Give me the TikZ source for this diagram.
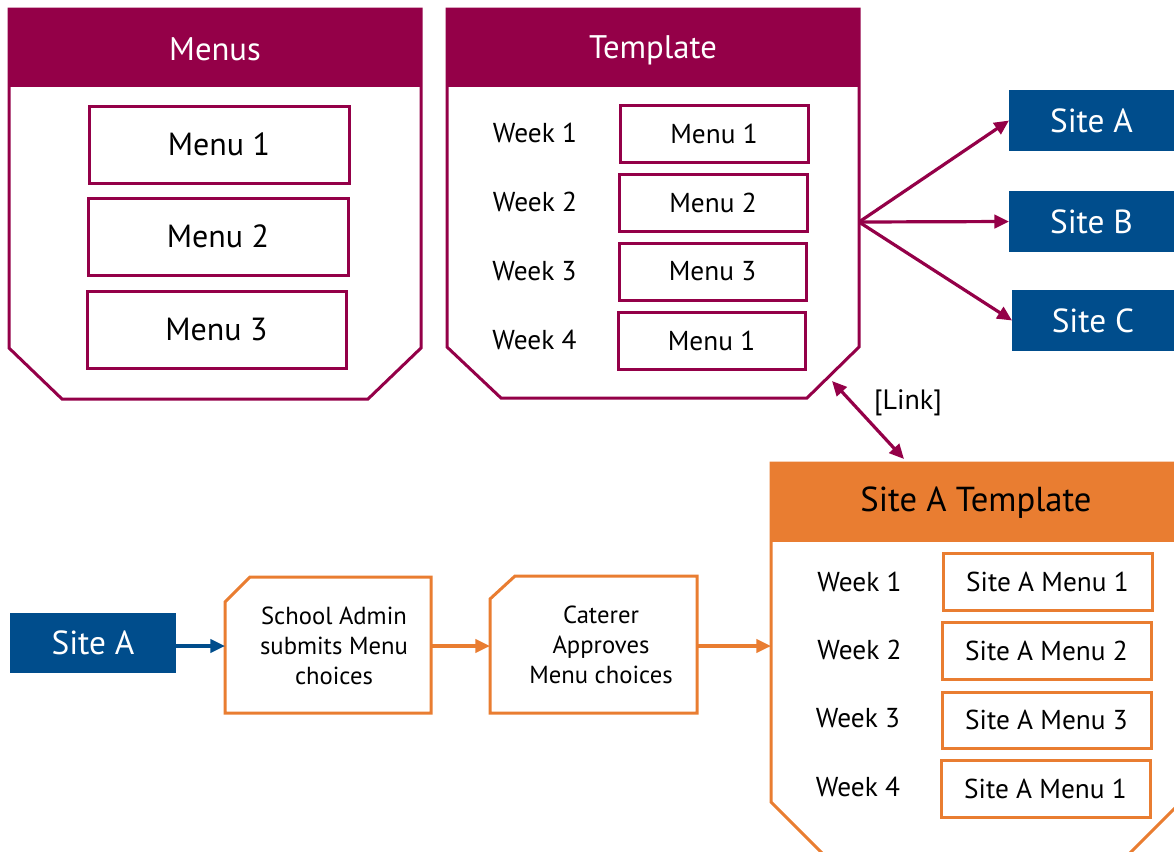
\documentclass[tikz,border=0pt]{standalone}
\usepackage{fontspec}
\setmainfont{PT Sans}
\usetikzlibrary{arrows.meta}
\definecolor{maroon}{RGB}{148,0,72}
\definecolor{siteblue}{RGB}{0,77,140}
\definecolor{orng}{RGB}{233,125,49}
\begin{document}
\begin{tikzpicture}[x=0.75pt,y=-0.75pt,
  dims/.style 2 args={minimum width=#1*0.75pt, minimum height=#2*0.75pt},
  boxbase/.style={line width=2.25pt, inner sep=0pt, outer sep=0pt},
  mbox/.style={boxbase, draw=maroon},
  obox/.style={boxbase, draw=orng},
  sitebox/.style={inner sep=0pt, outer sep=0pt, fill=siteblue, text=white, font=\fontsize{25}{30}\selectfont},
  hdr/.style={text=white, font=\fontsize{24.5}{28}\selectfont},
  bigmenu/.style={font=\fontsize{24}{28}\selectfont},
  smallt/.style={font=\fontsize{20.5}{24}\selectfont},
  flowt/.style={align=center, font=\fontsize{18.5}{22.5}\selectfont},
  cont/.style={line width=2.25pt, line join=miter},
  arr/.style={line width=2.4pt, -{Triangle[length=11pt,width=10pt]}},
  dblarr/.style={line width=2.4pt, {Triangle[length=11pt,width=10pt]}-{Triangle[length=11pt,width=10pt]}}
]
\useasboundingbox (0,0) rectangle (1174,851);

% ---------- Menus container ----------
\fill[maroon] (9,9) rectangle (421,87);
\draw[cont, maroon] (9,9) -- (421,9) -- (421,348) -- (368,399) -- (62,399) -- (9,348) -- cycle;
\node[hdr] (menusT) at (215,49) {Menus};
\node[mbox, dims={260}{77}, bigmenu] (m1) at (219,144.5) {Menu 1};
\node[mbox, dims={260}{77}, bigmenu] (m2) at (218,236.5) {Menu 2};
\node[mbox, dims={259}{77}, bigmenu] (m3) at (216.5,329.5) {Menu 3};

% ---------- Template container ----------
\fill[maroon] (447,9) rectangle (859,87);
\draw[cont, maroon] (447,9) -- (859,9) -- (859,347) -- (807,398) -- (501,398) -- (447,347) -- cycle;
\node[hdr] (tmplT) at (653,50) {Template};
\node[smallt] (w1) at (535,133) {Week 1};
\node[smallt] (w2) at (535,202) {Week 2};
\node[smallt] (w3) at (534.5,271) {Week 3};
\node[smallt] (w4) at (534.5,340) {Week 4};
\node[mbox, dims={188}{57}, smallt] (t1) at (714,133.5) {Menu 1};
\node[mbox, dims={188}{57}, smallt] (t2) at (713,202.5) {Menu 2};
\node[mbox, dims={187}{57}, smallt] (t3) at (712.5,271.5) {Menu 3};
\node[mbox, dims={187}{57}, smallt] (t4) at (711.5,340.5) {Menu 1};

% ---------- Sites ----------
\node[sitebox, dims={165}{61}] (sA) at (1091.5,120.5) {Site A};
\node[sitebox, dims={165}{61}] (sB) at (1091.5,221.5) {Site B};
\node[sitebox, dims={162}{61}] (sC) at (1093,320.5) {Site C};
\coordinate (tR) at (859,222);
\draw[arr, maroon] (tR) -- (sA.west);
\draw[arr, maroon] (tR) -- (sB.west);
\draw[arr, maroon] (tR) -- (sC.west);

% ---------- Link ----------
\coordinate (lk1) at (832,381);
\coordinate (lk2) at (904,459);
\draw[dblarr, maroon] (lk1) -- (lk2);
\node[font=\fontsize{21}{25}\selectfont] (linkT) at (908,403) {[Link]};

% ---------- Site A Template container ----------
\fill[orng] (771,463) rectangle (1181,542);
\draw[cont, orng] (771,463) -- (1181,463) -- (1181,802) -- (1126,857) -- (826,857) -- (771,802) -- cycle;
\node[font=\fontsize{26}{30}\selectfont] (saT) at (976,503) {Site A Template};
\node[smallt] (sw1) at (859.5,582) {Week 1};
\node[smallt] (sw2) at (859.5,650) {Week 2};
\node[smallt] (sw3) at (858,718) {Week 3};
\node[smallt] (sw4) at (858,787) {Week 4};
\node[obox, dims={209}{57}, smallt] (s1) at (1047.5,581.5) {Site A Menu 1};
\node[obox, dims={209}{57}, smallt] (s2) at (1046.5,650.5) {Site A Menu 2};
\node[obox, dims={209}{56}, smallt] (s3) at (1046.5,720) {Site A Menu 3};
\node[obox, dims={209}{57}, smallt] (s4) at (1045.5,788.5) {Site A Menu 1};

% ---------- Bottom flow ----------
\node[sitebox, dims={166}{60}] (sA2) at (93,643) {Site A};
\node[boxbase, dims={206}{136}] (school) at (328,645) {};
\draw[cont, orng] (school.south west) -- ([yshift=-18.75pt]school.north west) -- ([xshift=18.75pt]school.north west) -- (school.north east) -- (school.south east) -- cycle;
\node[flowt] (schoolT) at (334,646) {School Admin\\submits Menu\\choices};
\node[boxbase, dims={207}{137}] (cater) at (593.5,644.5) {};
\draw[cont, orng] (cater.south west) -- ([yshift=-17.25pt]cater.north west) -- ([xshift=18.75pt]cater.north west) -- (cater.north east) -- (cater.south east) -- cycle;
\node[flowt] (caterT) at (601,645) {Caterer\\Approves\\Menu choices};
\coordinate (saL) at (771,646);

\draw[arr, siteblue] (sA2.east |- 0,646) -- (school.west |- 0,646);
\draw[arr, orng] (school.east |- 0,646) -- (cater.west |- 0,646);
\draw[arr, orng] (cater.east |- 0,646) -- (saL);
\end{tikzpicture}
\end{document}
